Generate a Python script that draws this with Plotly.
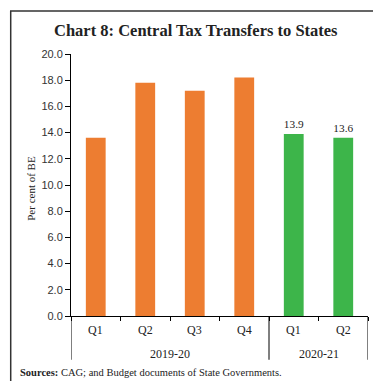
import plotly.graph_objects as go

years = ["2019-20", "2019-20", "2019-20", "2019-20", "2020-21", "2020-21"]
quarters = ["Q1", "Q2", "Q3", "Q4", "Q1", "Q2"]
values = [13.6, 17.8, 17.2, 18.2, 13.9, 13.6]
labels = ["", "", "", "", "13.9", "13.6"]
colors = ["#ED7D31", "#ED7D31", "#ED7D31", "#ED7D31", "#3DB54A", "#3DB54A"]
y_ticks = [0, 2, 4, 6, 8, 10, 12, 14, 16, 18, 20]

SERIF = "Liberation Serif"
SANS = "Liberation Sans"
INK = "#222"

idx = list(range(len(values)))

fig = go.Figure(go.Bar(
    x=idx, y=values, width=0.4, marker_color=colors, marker_line_width=0,
    text=labels, textposition="outside", cliponaxis=False,
    textfont=dict(family=SERIF, size=12, color=INK),
))

fig.update_layout(
    width=381, height=381, margin=dict(l=63, r=21, t=46, b=73),
    paper_bgcolor="white", plot_bgcolor="white", showlegend=False,
)
fig.update_yaxes(range=[0, 20], tickvals=y_ticks, ticktext=[f"{v:.1f}" for v in y_ticks],
                 showline=True, linecolor="black", linewidth=1, ticks="outside", ticklen=5,
                 tickcolor="black", showgrid=False, zeroline=False,
                 tickfont=dict(family=SANS, size=11, color="#333"))
fig.update_xaxes(range=[-0.5, len(values) - 0.5], showline=True, linecolor="black", linewidth=1,
                 showticklabels=False, ticks="", showgrid=False, zeroline=False,
                 minor=dict(ticks="outside", tick0=-0.5, dtick=1, ticklen=4, tickcolor="black",
                            showgrid=False))

# quarter labels
for i, q in zip(idx, quarters):
    fig.add_annotation(x=i, xref="x", y=-0.052, yref="paper", text=q, showarrow=False,
                       yanchor="middle", font=dict(family=SERIF, size=12, color=INK))

# year group labels and dividers
groups = []
for i, yv in zip(idx, years):
    if not groups or groups[-1][0] != yv:
        groups.append([yv, i, i])
    else:
        groups[-1][2] = i
bounds = [-0.5] + [g[2] + 0.5 for g in groups]
for b in bounds:
    fig.add_shape(type="line", xref="x", yref="paper", x0=b, x1=b, y0=0, y1=-0.167,
                  line=dict(color="black", width=1))
for yv, a, b in groups:
    fig.add_annotation(x=(a + b) / 2, xref="x", y=-0.144, yref="paper", text=yv, showarrow=False,
                       yanchor="middle", font=dict(family=SERIF, size=12, color=INK))

# title, axis title, source, frame
fig.add_annotation(xref="paper", yref="paper", x=0.421, y=1.0915, xanchor="center", yanchor="middle",
                   showarrow=False, text="<b>Chart 8: Central Tax Transfers to States</b>",
                   font=dict(family=SERIF, size=16.5, color=INK))
fig.add_annotation(xref="paper", yref="paper", x=-0.135, y=0.489, xanchor="center", yanchor="middle",
                   showarrow=False, textangle=-90, text="Per cent of BE",
                   font=dict(family=SERIF, size=11, color=INK))
fig.add_annotation(xref="paper", yref="paper", x=-0.178, y=-0.216, xanchor="left", yanchor="middle",
                   showarrow=False, text="<b>Sources:</b> CAG; and Budget documents of State Governments.",
                   font=dict(family=SERIF, size=10.5, color=INK))
fig.add_shape(type="rect", xref="paper", yref="paper", x0=-0.203, x1=1.0505, y0=-0.261, y1=1.164,
              line=dict(color="#333", width=1.5), fillcolor="rgba(0,0,0,0)", layer="below")

fig.write_html("out.html")
